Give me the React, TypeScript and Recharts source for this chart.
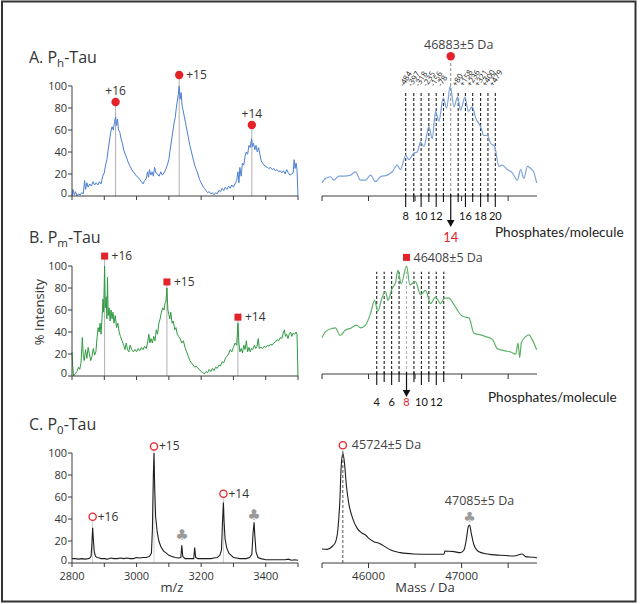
import React from 'react';
import { LineChart, Line, XAxis, YAxis, ReferenceLine, ReferenceDot } from 'recharts';

type P = [number, number];

// ---------- m/z spectra (left column) ----------
const specA: P[] = [[2800,0],[2803,6],[2807,1],[2811,4],[2815,0],[2820,2],[2825,1],[2830,3],[2835,2],[2839,14],[2842,6],[2846,12],[2850,8],[2855,11],[2860,9],[2865,13],[2870,10],[2875,12],[2880,10],[2885,13],[2890,11],[2895,18],[2900,21],[2904,28],[2908,33],[2912,42],[2916,50],[2920,58],[2924,63],[2928,60],[2932,68],[2935,72],[2938,64],[2941,70],[2944,60],[2948,58],[2952,52],[2956,48],[2960,42],[2965,38],[2970,34],[2975,30],[2980,27],[2985,24],[2990,22],[2995,20],[3000,18],[3005,17],[3010,15],[3015,13],[3020,11],[3025,14],[3030,16],[3034,22],[3037,17],[3040,24],[3044,19],[3048,22],[3052,18],[3056,26],[3060,21],[3065,20],[3070,18],[3075,22],[3080,19],[3085,21],[3090,24],[3095,28],[3100,33],[3104,42],[3108,50],[3112,58],[3116,66],[3120,72],[3123,80],[3126,86],[3129,92],[3132,100],[3135,88],[3138,94],[3141,82],[3144,78],[3148,72],[3152,66],[3156,60],[3160,54],[3165,46],[3170,40],[3175,34],[3180,28],[3185,24],[3190,20],[3195,15],[3200,12],[3205,9],[3210,7],[3215,5],[3220,3],[3225,4],[3230,2],[3235,3],[3240,1],[3245,3],[3250,2],[3255,5],[3260,4],[3265,7],[3270,5],[3275,8],[3280,6],[3285,9],[3290,7],[3295,10],[3300,8],[3305,11],[3310,14],[3314,22],[3317,12],[3320,26],[3324,18],[3328,30],[3332,28],[3336,36],[3340,40],[3344,38],[3348,46],[3352,44],[3356,52],[3359,45],[3362,48],[3366,42],[3370,46],[3374,40],[3378,44],[3382,38],[3386,32],[3390,30],[3395,28],[3400,27],[3405,26],[3410,25],[3415,26],[3420,24],[3425,25],[3430,23],[3435,24],[3440,22],[3445,23],[3450,21],[3455,23],[3460,20],[3465,24],[3470,21],[3475,19],[3480,20],[3485,21],[3488,33],[3491,25],[3494,30],[3497,24],[3500,0]];

const specB: P[] = [[2800,22],[2802,10],[2805,0],[2810,2],[2815,4],[2820,8],[2824,6],[2828,12],[2832,35],[2835,18],[2838,14],[2842,24],[2846,16],[2850,26],[2854,20],[2858,14],[2862,18],[2866,25],[2870,19],[2874,22],[2878,36],[2881,44],[2884,40],[2887,48],[2890,38],[2893,52],[2896,70],[2898,58],[2901,100],[2903,62],[2906,72],[2908,52],[2910,90],[2912,55],[2915,62],[2918,50],[2921,60],[2924,52],[2927,58],[2930,48],[2934,55],[2938,44],[2942,48],[2946,40],[2950,36],[2955,32],[2960,28],[2964,24],[2968,30],[2972,24],[2976,22],[2980,28],[2985,24],[2990,22],[2995,24],[3000,22],[3005,25],[3010,23],[3015,26],[3020,24],[3025,27],[3030,25],[3034,30],[3038,38],[3041,30],[3045,34],[3049,30],[3053,36],[3057,32],[3061,42],[3065,38],[3069,48],[3073,52],[3077,58],[3081,62],[3085,60],[3088,66],[3091,68],[3094,80],[3097,60],[3100,56],[3103,52],[3106,58],[3110,48],[3114,50],[3118,42],[3122,44],[3126,38],[3130,36],[3135,34],[3140,30],[3145,32],[3150,26],[3155,22],[3160,18],[3165,14],[3170,12],[3175,10],[3180,8],[3185,9],[3190,7],[3195,6],[3200,4],[3205,3],[3210,2],[3215,4],[3220,3],[3225,6],[3230,4],[3235,7],[3240,5],[3245,8],[3250,7],[3255,10],[3260,9],[3265,13],[3270,12],[3275,16],[3280,18],[3285,20],[3290,24],[3295,22],[3300,26],[3305,30],[3310,28],[3314,48],[3317,30],[3320,22],[3324,25],[3328,21],[3332,28],[3336,24],[3340,32],[3344,22],[3348,26],[3352,22],[3356,25],[3360,24],[3365,28],[3369,25],[3373,27],[3377,34],[3380,25],[3385,26],[3390,25],[3395,27],[3400,26],[3405,28],[3410,27],[3415,29],[3420,28],[3425,30],[3430,31],[3435,33],[3440,32],[3445,35],[3450,34],[3455,40],[3458,42],[3461,36],[3465,38],[3469,34],[3473,38],[3477,40],[3481,36],[3485,39],[3490,38],[3494,40],[3497,38],[3500,0]];

const specC: P[] = [[2800,4],[2810,4],[2820,3.5],[2830,4],[2840,3.5],[2850,4],[2855,4.5],[2859,6],[2861,14],[2864,32],[2866,22],[2869,10],[2873,6],[2878,5],[2885,4.5],[2890,4],[2900,4],[2910,3.5],[2920,4.5],[2930,4],[2940,4],[2950,4.5],[2960,4],[2970,4.5],[2980,4],[2990,4],[3000,5],[3010,4.5],[3020,5],[3030,5],[3040,6],[3046,9],[3049,30],[3052,80],[3054,100],[3056,70],[3059,42],[3064,28],[3069,20],[3075,15],[3083,11],[3092,9],[3100,7],[3110,6],[3120,5],[3130,4.5],[3137,5],[3140,16],[3143,6],[3150,4],[3160,4],[3170,4],[3177,4],[3180,14],[3183,5],[3190,4],[3200,4],[3210,4],[3220,4],[3230,4],[3240,4.5],[3250,5],[3258,7],[3263,12],[3266,36],[3269,55],[3271,38],[3274,22],[3279,14],[3286,9],[3293,7],[3300,5],[3310,4.5],[3320,4],[3330,4],[3340,4],[3350,5],[3357,8],[3361,28],[3364,37],[3366,26],[3370,10],[3376,5],[3385,4],[3400,3],[3420,3],[3440,3],[3460,3],[3470,3.5],[3480,2.5],[3490,3],[3500,2.5]];

// ---------- deconvoluted mass spectra (right column) ----------
const massA: P[] = [[45500,12],[45538,16],[45591,17.5],[45627,14.5],[45681,18],[45735,18],[45806,19],[45860,22],[45914,14.5],[45968,14.5],[46022,19],[46075,13],[46129,17.5],[46201,19],[46254,22],[46308,28],[46344,24],[46398,37],[46434,33],[46487,39],[46523,40],[46559,49],[46595,45],[46649,63],[46685,52],[46720,77],[46756,68],[46803,89],[46839,80],[46878,100],[46918,81],[46957,90],[46989,78],[47036,90],[47072,77],[47115,81],[47151,71],[47204,63],[47240,55],[47276,55],[47312,48],[47355,45],[47401,27],[47437,28],[47491,24],[47545,21],[47599,14.5],[47634,24],[47670,16],[47706,27],[47742,25],[47778,21],[47806,12]];

const massB: P[] = [[45500,33],[45538,38.5],[45609,41.5],[45645,42],[45692,35],[45753,40],[45806,41.5],[45871,44.5],[45914,42],[45968,44.5],[46022,55],[46065,67],[46100,57],[46147,70],[46183,75],[46208,67],[46254,78],[46290,83],[46315,94.5],[46351,82],[46409,98],[46444,81],[46505,84],[46559,72],[46613,76],[46667,64],[46720,70],[46774,64],[46817,69],[46864,69],[46918,63],[46989,54],[47025,52],[47079,51],[47133,37],[47204,35.5],[47258,34],[47330,31.5],[47384,23],[47419,22],[47473,21],[47527,20],[47581,18],[47606,28],[47624,15],[47642,28.5],[47688,34],[47724,35.5],[47760,31],[47806,22]];

const massC: P[] = [[45500,12.7],[45556,12.4],[45609,15],[45645,19],[45670,30],[45692,57],[45706,87.5],[45724,100],[45742,90.6],[45760,72],[45788,54],[45824,42],[45878,31.5],[45932,27],[45968,25.5],[46004,22.4],[46057,19.4],[46111,18],[46147,16.4],[46237,11.8],[46344,9.4],[46487,8.2],[46631,7.9],[46810,7.9],[46821,10.9],[46918,10.3],[46989,9.4],[47025,11.8],[47050,21],[47072,33],[47086,34.5],[47104,27],[47133,16.4],[47186,10.3],[47276,8.2],[47419,7],[47563,6.4],[47652,8.2],[47688,5.8],[47778,5.2],[47810,4.5]];

// ---------- ticks / labels ----------
const mzTicks = [2800, 2900, 3000, 3100, 3200, 3300, 3400, 3500];
const mzTickLabels = ['2800', '', '3000', '', '3200', '', '3400', ''];
const intTicks = [0, 20, 40, 60, 80, 100];
const massTicks = [45500, 46000, 46500, 47000, 47500];
const massTickLabels = ['', '46000', '', '47000', ''];

// charge-state annotations
const chargeA = [{ z: '+16', mz: 2935, y: 85.5 }, { z: '+15', mz: 3132, y: 110 }, { z: '+14', mz: 3357, y: 64.5 }];
const chargeB = [{ z: '+16', mz: 2901, y: 109 }, { z: '+15', mz: 3094, y: 85.5 }, { z: '+14', mz: 3314, y: 53.5 }];
const chargeC = [{ z: '+16', mz: 2864, y: 42 }, { z: '+15', mz: 3054, y: 106 }, { z: '+14', mz: 3269, y: 63 }];
const clubsC = [{ mz: 3141, y: 25.5 }, { mz: 3364, y: 43.5 }];

// mass annotations
const peakA = { mass: 46883, y: 127, label: '46883±5 Da' };
const peakB = { mass: 46408, y: 106, label: '46408±5 Da' };
const peakC1 = { mass: 45724, y: 107, label: '45724±5 Da' };
const peakC2 = { mass: 47085, y: 42, label: '47085±5 Da' };

// phosphate ladders
const phosA = {
  masses: [46399, 46486, 46565, 46648, 46727, 46805, 46883, 46963, 47041, 47119, 47204, 47283, 47362],
  counts: [8, 9, 10, 11, 12, 13, 14, 15, 16, 17, 18, 19, 20],
  deltas: ['-484', '-397', '-318', '-235', '-156', '-78', '', '+80', '+158', '+236', '+321', '+400', '+479'],
  center: 14,
  top: 94.5,
};
const phosB = {
  masses: [46088, 46168, 46248, 46328, 46408, 46488, 46568, 46648, 46728, 46808],
  counts: [4, 5, 6, 7, 8, 9, 10, 11, 12, 13],
  center: 8,
  top: 93,
};

const RED = '#e3222a';
const FONT = "'Open Sans', 'DejaVu Sans', sans-serif";
const LFONT = "Lato, 'Open Sans', sans-serif";

const rows = (s: P[]) => s.map(([x, y]) => ({ x, y }));

type Phos = { masses: number[]; counts: number[]; center: number; top: number };

const makeMassTick = (axisY: number, phos: Phos | null, showLabels: boolean, lblY: number, centerLblY: number, longLen: number, shortLen: number, arrowLen: number, lblSize: number) =>
  (props: any) => {
    const x = props.x;
    const v = props.payload?.value;
    const mi = massTicks.indexOf(v);
    if (mi >= 0) {
      return (
        <g>
          <line x1={x} x2={x} y1={axisY} y2={axisY + 5} stroke="#333" strokeWidth={1} />
          {showLabels && massTickLabels[mi] ? (
            <text x={x} y={axisY + 17} textAnchor="middle" fontSize={11.5} fill="#333" fontFamily={FONT}>{massTickLabels[mi]}</text>
          ) : null}
        </g>
      );
    }
    if (!phos) return <g />;
    const pi = phos.masses.indexOf(v);
    if (pi < 0) return <g />;
    const n = phos.counts[pi];
    if (n === phos.center) {
      return (
        <g>
          <line x1={x} x2={x} y1={axisY - 2} y2={axisY + arrowLen - 6} stroke="#111" strokeWidth={1.2} />
          <polygon points={`${x - 3.8},${axisY + arrowLen - 7} ${x + 3.8},${axisY + arrowLen - 7} ${x},${axisY + arrowLen}`} fill="#111" />
          <text x={x} y={centerLblY} textAnchor="middle" fontSize={centerLblY === lblY ? lblSize : 13} fill={RED} fontFamily={LFONT}>{n}</text>
        </g>
      );
    }
    const even = n % 2 === 0;
    return (
      <g>
        <line x1={x} x2={x} y1={axisY - 2} y2={axisY + (even ? longLen : shortLen)} stroke="#111" strokeWidth={1.1} />
        {even ? (
          <text x={x} y={lblY} textAnchor="middle" fontSize={lblSize} fill="#111" fontFamily={LFONT}>{n}</text>
        ) : null}
      </g>
    );
  };

// y tick label: the "0" sits slightly above its tick so it clears the x labels
const intTick = (props: any) => {
  const v = props.payload?.value;
  return (
    <text x={props.x} y={props.y + (v === 0 ? -2.5 : 0)} dy="0.355em" textAnchor="end" fontSize={11} fill="#333" fontFamily={FONT}>
      {v}
    </text>
  );
};

function leftMargin(top: number, axisY: number) {
  return { top, right: 342, bottom: 584 - axisY, left: 32 };
}
function rightMargin(top: number, axisY: number) {
  return { top, right: 103, bottom: 584 - axisY, left: 322 };
}

const abs: React.CSSProperties = { position: 'absolute', left: 0, top: 0 };

export default function App() {
  const axisStroke = '#3c3c3c';
  const yAxisEl = (
    <YAxis type="number" domain={[0, 100]} ticks={intTicks} interval={0} width={40} tickSize={4} tickMargin={1}
      stroke={axisStroke} tick={intTick} />
  );
  const xLeft = (labels: boolean) => (
    <XAxis dataKey="x" type="number" domain={[2800, 3500]} ticks={mzTicks} interval={0} tickSize={4} tickMargin={5} height={20}
      stroke={axisStroke} tick={{ fontSize: 11, fill: '#333', fontFamily: FONT }}
      tickFormatter={(v: number) => (labels ? mzTickLabels[mzTicks.indexOf(v)] ?? '' : '')} />
  );

  return (
    <div style={{ position: 'absolute', left: 0, top: 0, width: 640, height: 604, background: '#fff', fontFamily: FONT }}>
      {/* static text & frame */}
      <svg width={640} height={604} style={abs}>
        <rect x={2} y={1.5} width={633.5} height={600} fill="none" stroke="#333" strokeWidth={2} />
        <text x={29} y={63} fontSize={16} fill="#333">A. P<tspan fontSize={11.5} dy={4}>h</tspan><tspan dy={-4}>-Tau</tspan></text>
        <text x={29} y={243} fontSize={16} fill="#333">B. P<tspan fontSize={11.5} dy={4}>m</tspan><tspan dy={-4}>-Tau</tspan></text>
        <text x={29} y={430} fontSize={16} fill="#333">C. P<tspan fontSize={11.5} dy={4}>0</tspan><tspan dy={-4}>-Tau</tspan></text>
        <text transform="translate(44,312) rotate(-90)" textAnchor="middle" fontSize={13} fill="#333">% Intensity</text>
        <text x={172} y={592} textAnchor="middle" fontSize={13} fill="#333">m/z</text>
        <text x={425} y={592} textAnchor="middle" fontSize={13} fill="#333">Mass / Da</text>
        <text x={495} y={237} fontSize={13.6} fill="#222" fontFamily={LFONT}>Phosphates/molecule</text>
        <text x={488} y={402} fontSize={13.6} fill="#222" fontFamily={LFONT}>Phosphates/molecule</text>
      </svg>

      {/* A left */}
      <div style={abs}>
        <LineChart width={640} height={604} data={rows(specA)} margin={leftMargin(86, 196)}>
          {xLeft(false)}
          {yAxisEl}
          {chargeA.map((c) => (
            <ReferenceLine key={'la' + c.z} segment={[{ x: c.mz, y: 0 }, { x: c.mz, y: c.y }]} stroke="#9a9a9a" strokeWidth={0.8} ifOverflow="visible" />
          ))}
          <Line dataKey="y" type="linear" stroke="#4a7fd0" strokeWidth={1} dot={false} isAnimationActive={false} />
          {chargeA.map((c, i) => (
            <ReferenceDot key={'da' + c.z} x={c.mz} y={c.y} r={4} ifOverflow="visible"
              shape={(p: any) => (
                <g>
                  <circle cx={p.cx} cy={p.cy} r={4.2} fill={RED} />
                  {i === 1 ? (
                    <text x={p.cx + 7} y={p.cy + 4} fontSize={12} fill="#333">{c.z}</text>
                  ) : (
                    <text x={p.cx} y={p.cy - 7} textAnchor="middle" fontSize={12} fill="#333">{c.z}</text>
                  )}
                </g>
              )} />
          ))}
        </LineChart>
      </div>

      {/* B left */}
      <div style={abs}>
        <LineChart width={640} height={604} data={rows(specB)} margin={leftMargin(266, 376)}>
          {xLeft(false)}
          {yAxisEl}
          {chargeB.map((c) => (
            <ReferenceLine key={'lb' + c.z} segment={[{ x: c.mz, y: 0 }, { x: c.mz, y: c.y }]} stroke="#9a9a9a" strokeWidth={0.8} ifOverflow="visible" />
          ))}
          <Line dataKey="y" type="linear" stroke="#2e9a41" strokeWidth={1} dot={false} isAnimationActive={false} />
          {chargeB.map((c) => (
            <ReferenceDot key={'db' + c.z} x={c.mz} y={c.y} r={4} ifOverflow="visible"
              shape={(p: any) => (
                <g>
                  <rect x={p.cx - 3.5} y={p.cy - 3.5} width={7} height={7} fill={RED} />
                  <text x={p.cx + 7} y={p.cy + 4} fontSize={12} fill="#333">{c.z}</text>
                </g>
              )} />
          ))}
        </LineChart>
      </div>

      {/* C left */}
      <div style={abs}>
        <LineChart width={640} height={604} data={rows(specC)} margin={leftMargin(453, 563)}>
          {xLeft(true)}
          {yAxisEl}
          {chargeC.map((c) => (
            <ReferenceLine key={'lc' + c.z} segment={[{ x: c.mz, y: 0 }, { x: c.mz, y: c.y - 3 }]} stroke="#cfcfcf" strokeWidth={1} ifOverflow="visible" />
          ))}
          <Line dataKey="y" type="linear" stroke="#1e1e1e" strokeWidth={1.1} dot={false} isAnimationActive={false} />
          {chargeC.map((c) => (
            <ReferenceDot key={'dc' + c.z} x={c.mz} y={c.y} r={4} ifOverflow="visible"
              shape={(p: any) => (
                <g>
                  <circle cx={p.cx} cy={p.cy} r={3.6} fill="none" stroke={RED} strokeWidth={1.3} />
                  <text x={p.cx + 5} y={p.cy + 4} fontSize={12} fill="#333">{c.z}</text>
                </g>
              )} />
          ))}
          {clubsC.map((c) => (
            <ReferenceDot key={'cc' + c.mz} x={c.mz} y={c.y} r={4} ifOverflow="visible"
              shape={(p: any) => (
                <text x={p.cx} y={p.cy + 5} textAnchor="middle" fontSize={15} fill="#9b9b9b" fontFamily="'DejaVu Sans'">♣</text>
              )} />
          ))}
        </LineChart>
      </div>

      {/* A right */}
      <div style={abs}>
        <LineChart width={640} height={604} data={rows(massA)} margin={rightMargin(86, 196)}>
          <XAxis dataKey="x" type="number" domain={[45500, 47810]} ticks={[...massTicks, ...phosA.masses]} interval={0}
            tickSize={0} tickMargin={0} tickLine={false} height={20} stroke={axisStroke}
            tick={makeMassTick(196, phosA, false, 220, 242, 11, 6, 31, 11)} />
          <YAxis hide type="number" domain={[0, 100]} />
          {phosA.masses.map((m, i) => (
            phosA.counts[i] === phosA.center ? (
              <ReferenceLine key={'pa' + m} segment={[{ x: m, y: 0 }, { x: m, y: peakA.y - 4 }]} stroke="#8a8a8a" strokeWidth={1} strokeDasharray="3 2" ifOverflow="visible" />
            ) : (
              <ReferenceLine key={'pa' + m} segment={[{ x: m, y: 0 }, { x: m, y: phosA.top }]} stroke="#222" strokeWidth={1.1} strokeDasharray="3 2" ifOverflow="visible" />
            )
          ))}
          <Line dataKey="y" type="monotone" stroke="#7ba2dc" strokeWidth={1.2} dot={false} isAnimationActive={false} />
          {phosA.masses.map((m, i) => (
            phosA.deltas[i] ? (
              <ReferenceDot key={'ta' + m} x={m} y={phosA.top} r={1} ifOverflow="visible"
                shape={(p: any) => (
                  <text transform={`translate(${p.cx - 2},${p.cy - 5}) rotate(-58)`} fontSize={7.8} fill="#222">{phosA.deltas[i]}</text>
                )} />
            ) : null
          ))}
          <ReferenceDot x={peakA.mass} y={peakA.y} r={4} ifOverflow="visible"
            shape={(p: any) => (
              <g>
                <circle cx={p.cx} cy={p.cy} r={4.2} fill={RED} />
                <text x={p.cx + 8} y={p.cy - 7} textAnchor="middle" fontSize={12.5} fill="#444">{peakA.label}</text>
              </g>
            )} />
        </LineChart>
      </div>

      {/* B right */}
      <div style={abs}>
        <LineChart width={640} height={604} data={rows(massB)} margin={rightMargin(264, 374)}>
          <XAxis dataKey="x" type="number" domain={[45500, 47810]} ticks={[...massTicks, ...phosB.masses]} interval={0}
            tickSize={0} tickMargin={0} tickLine={false} height={20} stroke={axisStroke}
            tick={makeMassTick(374, phosB, false, 406, 406, 11, 8, 23, 11)} />
          <YAxis hide type="number" domain={[0, 100]} />
          {phosB.masses.map((m, i) => (
            <ReferenceLine key={'pb' + m} segment={[{ x: m, y: 0 }, { x: m, y: phosB.top }]}
              stroke={phosB.counts[i] === phosB.center ? '#b5b5b5' : '#222'} strokeWidth={1.1} strokeDasharray="3 2" ifOverflow="visible" />
          ))}
          <Line dataKey="y" type="monotone" stroke="#5cb168" strokeWidth={1.2} dot={false} isAnimationActive={false} />
          <ReferenceDot x={peakB.mass} y={peakB.y} r={4} ifOverflow="visible"
            shape={(p: any) => (
              <g>
                <rect x={p.cx - 3.5} y={p.cy - 3.5} width={7} height={7} fill={RED} />
                <text x={p.cx + 7} y={p.cy + 4.5} fontSize={12.5} fill="#444">{peakB.label}</text>
              </g>
            )} />
        </LineChart>
      </div>

      {/* C right */}
      <div style={abs}>
        <LineChart width={640} height={604} data={rows(massC)} margin={rightMargin(453, 563)}>
          <XAxis dataKey="x" type="number" domain={[45500, 47810]} ticks={massTicks} interval={0}
            tickSize={0} tickMargin={0} tickLine={false} height={20} stroke={axisStroke}
            tick={makeMassTick(563, null, true, 0, 0, 0, 0, 0, 12)} />
          <YAxis hide type="number" domain={[0, 100]} />
          <ReferenceLine segment={[{ x: peakC1.mass, y: 0 }, { x: peakC1.mass, y: 102 }]} stroke="#555" strokeWidth={1} strokeDasharray="3 2" ifOverflow="visible" />
          <Line dataKey="y" type="monotone" stroke="#1e1e1e" strokeWidth={1.1} dot={false} isAnimationActive={false} />
          <ReferenceDot x={peakC1.mass} y={peakC1.y} r={4} ifOverflow="visible"
            shape={(p: any) => (
              <g>
                <circle cx={p.cx} cy={p.cy} r={3.6} fill="none" stroke={RED} strokeWidth={1.3} />
                <text x={p.cx + 9} y={p.cy + 4} fontSize={12.5} fill="#444">{peakC1.label}</text>
              </g>
            )} />
          <ReferenceDot x={peakC2.mass} y={peakC2.y} r={4} ifOverflow="visible"
            shape={(p: any) => (
              <g>
                <text x={p.cx} y={p.cy + 5} textAnchor="middle" fontSize={14} fill="#9b9b9b" fontFamily="'DejaVu Sans'">♣</text>
                <text x={p.cx + 10} y={p.cy - 12} textAnchor="middle" fontSize={12.5} fill="#444">{peakC2.label}</text>
              </g>
            )} />
        </LineChart>
      </div>
    </div>
  );
}
